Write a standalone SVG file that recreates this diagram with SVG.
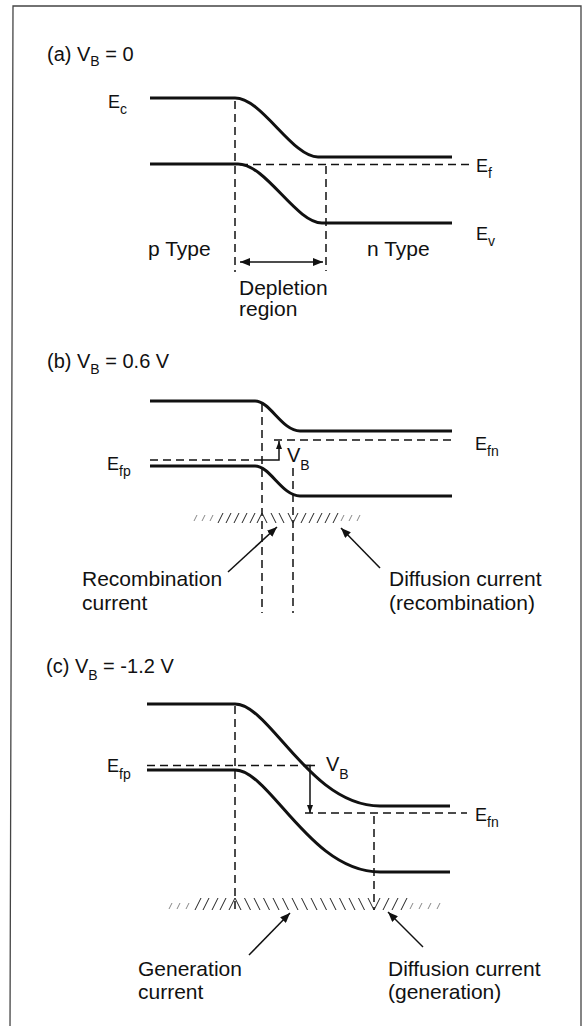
<svg xmlns="http://www.w3.org/2000/svg" width="582" height="1026" viewBox="0 0 582 1026">
<defs>
<style>
text{font-family:"Liberation Sans",Arial,sans-serif;fill:#111}
.t{font-size:20px}
.l{font-size:21px}
.e{font-size:18px}
.s{font-size:14px}
.band{fill:none;stroke:#111;stroke-width:3}
.dash{fill:none;stroke:#111;stroke-width:1.5;stroke-dasharray:8 5}
.ln{fill:none;stroke:#111;stroke-width:1.5}
.hatch{fill:none;stroke:#222;stroke-width:1}
.hf{fill:none;stroke:#888;stroke-width:1}
</style>
<marker id="ah" viewBox="0 0 10 8" refX="10" refY="4" markerWidth="10" markerHeight="8" markerUnits="userSpaceOnUse" orient="auto-start-reverse">
<path d="M0,0 L10,4 L0,8 Z" fill="#111"/>
</marker>
<marker id="ahs" viewBox="0 0 8 6" refX="8" refY="3" markerWidth="8" markerHeight="6" markerUnits="userSpaceOnUse" orient="auto-start-reverse">
<path d="M0,0 L8,3 L0,6 Z" fill="#111"/>
</marker>
</defs>
<rect width="582" height="1026" fill="#fff"/>
<path d="M10,1030 L13,6 L581,6 L581,1030" fill="none" stroke="#444" stroke-width="1.3"/>

<g id="panel-a">
<text class="t" x="47" y="61">(a) V<tspan class="s" dy="5">B</tspan><tspan dy="-5"> = 0</tspan></text>
<path class="band" d="M150,98 H235 C262,98 292,157 318,157 H452"/>
<path class="band" d="M150,164 H238 C266,164 296,223 322,223 H452"/>
<path class="dash" d="M240,164.5 H470"/>
<path class="dash" d="M235,101 V272"/>
<path class="dash" d="M326,166 V271"/>
<text class="e" x="108" y="108">E<tspan class="s" dy="6">c</tspan></text>
<text class="e" x="476" y="172">E<tspan class="s" dy="6">f</tspan></text>
<text class="e" x="476" y="240">E<tspan class="s" dy="6">v</tspan></text>
<text class="l" x="148" y="256">p Type</text>
<text class="l" x="367" y="256">n Type</text>
<text class="l" x="239" y="295">Depletion</text>
<text class="l" x="239" y="316">region</text>
</g>

<g id="panel-b">
<text class="t" x="47" y="368">(b) V<tspan class="s" dy="6">B</tspan><tspan dy="-6"> = 0.6 V</tspan></text>
<path class="band" d="M150,401 H255 C270,401 282,431 300,431 H452"/>
<path class="band" d="M150,466 H255 C270,466 282,496 300,496 H452"/>
<path class="dash" d="M150,460 H262"/>
<path class="dash" d="M274,440 H452"/>
<path class="dash" d="M262,404 V613"/>
<path class="dash" d="M293,468 V613"/>
<text class="e" x="107" y="470">E<tspan class="s" dy="6">fp</tspan></text>
<text class="e" x="475" y="450">E<tspan class="s" dy="6">fn</tspan></text>
<text class="t" x="287" y="462">V<tspan class="s" dy="8">B</tspan></text>
<path class="hf" d="M194,521 l3,-6 M202,521 l3,-6 M210,521 l3,-6 M341,521 l3,-6 M349,521 l3,-6 M357,521 l3,-6"/>
<path class="hatch" d="M218,523 l5,-10 M226,523 l5,-10 M234,523 l5,-10 M242,523 l5,-10 M250,523 l5,-10 M257,523 l5,-10 M262,513 l5,10 M271,513 l5,10 M279,513 l5,10 M288,513 l5,10 M293,523 l5,-10 M301,523 l5,-10 M309,523 l5,-10 M317,523 l5,-10 M325,523 l5,-10 M333,523 l5,-10"/>
<text class="l" x="82" y="586">Recombination</text>
<text class="l" x="82" y="610">current</text>
<text class="l" x="389" y="586">Diffusion current</text>
<text class="l" x="389" y="610">(recombination)</text>
</g>

<g id="panel-c">
<text class="t" x="46" y="673">(c) V<tspan class="s" dy="7">B</tspan><tspan dy="-7"> = -1.2 V</tspan></text>
<path class="band" d="M147,704 H235 C270,704 310,806 380,806 H450"/>
<path class="band" d="M147,770 H235 C270,770 310,872 380,872 H450"/>
<path class="dash" d="M147,765.5 H315"/>
<path class="dash" d="M305,813 H467"/>
<path class="dash" d="M235,706 V910"/>
<path class="dash" d="M374,816 V910"/>
<text class="e" x="107" y="772">E<tspan class="s" dy="7">fp</tspan></text>
<text class="e" x="475" y="821">E<tspan class="s" dy="6">fn</tspan></text>
<text class="t" x="326" y="771">V<tspan class="s" dy="8">B</tspan></text>
<path class="hf" d="M169,909 l3,-6 M177,909 l3,-6 M186,909 l3,-6 M410,909 l3,-6 M419,909 l3,-6 M428,909 l3,-6 M437,909 l3,-6"/>
<path class="hatch" d="M195,910 l6,-12 M203,910 l6,-12 M212,910 l6,-12 M220,910 l6,-12 M229,910 l6,-12 M235,898 l6,12 M244.5,898 l6,12 M254,898 l6,12 M263.5,898 l6,12 M273,898 l6,12 M282.5,898 l6,12 M292,898 l6,12 M301.5,898 l6,12 M311,898 l6,12 M320.5,898 l6,12 M330,898 l6,12 M339.5,898 l6,12 M349,898 l6,12 M358.5,898 l6,12 M368,898 l6,12 M374,910 l6,-12 M383,910 l6,-12 M392,910 l6,-12 M401,910 l6,-12"/>
<text class="l" x="138" y="976">Generation</text>
<text class="l" x="138" y="999">current</text>
<text class="l" x="388" y="976">Diffusion current</text>
<text class="l" x="388" y="999">(generation)</text>
</g>

<g id="connectors">
<path class="ln" d="M240,262 H323" marker-start="url(#ah)" marker-end="url(#ah)"/>
<path class="ln" d="M262,460 H279 V441" marker-end="url(#ahs)"/>
<path class="ln" d="M305,765.5 H315 M310,765.5 V813" marker-end="url(#ahs)"/>
<path class="ln" d="M228,572 L277,527" marker-end="url(#ah)"/>
<path class="ln" d="M380,568 L341,528" marker-end="url(#ah)"/>
<path class="ln" d="M249,955 L290,913" marker-end="url(#ah)"/>
<path class="ln" d="M423,947 L388,912" marker-end="url(#ah)"/>
</g>
</svg>
